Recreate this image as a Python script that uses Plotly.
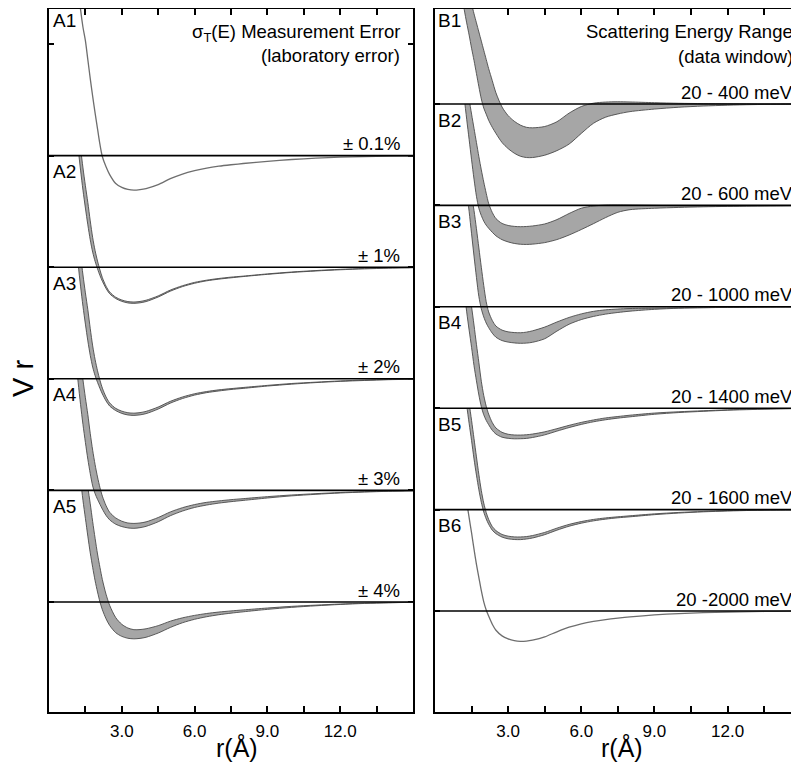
import plotly.graph_objects as go

# ---------------- data (V*r, in units of one sub-panel spacing) ----------------
R = [1.1, 1.2, 1.3, 1.4, 1.5, 1.6, 1.7, 1.8, 1.9, 2.0, 2.1, 2.2, 2.35, 2.5, 2.75, 3.0, 3.25, 3.5,
     3.75, 4.0, 4.5, 5.0, 5.5, 6.0, 6.5, 7.0, 7.5, 8.0, 9.0, 10.0, 11.0, 12.0, 13.0, 14.0, 15.0]

A1_V = [1.80, 1.52, 1.31, 1.15, 1.03, 0.86, 0.69, 0.53, 0.38, 0.24, 0.10, -0.01, -0.10, -0.17, -0.25,
        -0.285, -0.303, -0.31, -0.305, -0.295, -0.26, -0.207, -0.165, -0.135, -0.112, -0.095, -0.082,
        -0.071, -0.051, -0.035, -0.023, -0.014, -0.008, -0.005, -0.003]
A_CENTER = [1.40, 1.17, 0.97, 0.79, 0.63, 0.48, 0.33, 0.20, 0.10, 0.02, -0.05, -0.11, -0.18, -0.23,
            -0.275, -0.30, -0.314, -0.318, -0.313, -0.302, -0.262, -0.21, -0.17, -0.14, -0.119,
            -0.104, -0.092, -0.082, -0.062, -0.045, -0.032, -0.021, -0.013, -0.007, -0.003]
A2_HW = [0.10, 0.10, 0.10, 0.10, 0.10, 0.10, 0.085, 0.065, 0.048, 0.035, 0.025, 0.016, 0.01, 0.008,
         0.006, 0.006, 0.006, 0.006, 0.006, 0.006, 0.005, 0.005, 0.004, 0.004, 0.003, 0.003, 0.003,
         0.002, 0.002, 0.002, 0.002, 0.002, 0.002, 0.002, 0.002]
A3_HW = [0.14, 0.14, 0.14, 0.14, 0.14, 0.14, 0.12, 0.095, 0.072, 0.052, 0.037, 0.026, 0.018, 0.014,
         0.01, 0.01, 0.01, 0.01, 0.01, 0.01, 0.009, 0.008, 0.007, 0.006, 0.005, 0.005, 0.004, 0.004,
         0.003, 0.003, 0.002, 0.002, 0.002, 0.001, 0.001]
A4_HW = [0.2, 0.2, 0.2, 0.2, 0.2, 0.2, 0.18, 0.16, 0.13, 0.10, 0.075, 0.058, 0.044, 0.034, 0.028,
         0.024, 0.022, 0.022, 0.021, 0.02, 0.019, 0.017, 0.015, 0.013, 0.012, 0.01, 0.009, 0.008,
         0.006, 0.004, 0.003, 0.002, 0.002, 0.001, 0.001]
A5_LO = [1.55, 1.32, 1.10, 0.91, 0.75, 0.59, 0.44, 0.31, 0.19, 0.09, 0.0, -0.07, -0.15, -0.21, -0.275,
         -0.308, -0.325, -0.33, -0.326, -0.316, -0.278, -0.228, -0.186, -0.155, -0.132, -0.114, -0.1,
         -0.088, -0.066, -0.048, -0.034, -0.022, -0.013, -0.007, -0.003]
A5_HI = [2.10, 1.82, 1.58, 1.38, 1.20, 1.03, 0.88, 0.72, 0.57, 0.43, 0.31, 0.20, 0.07, -0.03, -0.14,
         -0.20, -0.233, -0.248, -0.247, -0.24, -0.212, -0.172, -0.142, -0.12, -0.103, -0.09, -0.08,
         -0.071, -0.054, -0.039, -0.028, -0.018, -0.011, -0.006, -0.003]

B1_LO = [1.10, 0.93, 0.80, 0.68, 0.55, 0.43, 0.30, 0.17, 0.05, -0.04, -0.10, -0.16, -0.23, -0.29,
         -0.38, -0.44, -0.485, -0.515, -0.528, -0.528, -0.505, -0.46, -0.395, -0.29, -0.19, -0.13,
         -0.098, -0.075, -0.05, -0.032, -0.02, -0.012, -0.006, -0.003, -0.001]
B1_HI = [1.60, 1.40, 1.25, 1.11, 0.99, 0.89, 0.80, 0.71, 0.62, 0.53, 0.44, 0.35, 0.23, 0.11, -0.03,
         -0.115, -0.17, -0.208, -0.23, -0.235, -0.222, -0.175, -0.09, -0.025, 0.008, 0.019, 0.022,
         0.02, 0.013, 0.007, 0.004, 0.002, 0.001, 0.0, 0.0]
B2_LO = [1.30, 1.06, 0.85, 0.65, 0.45, 0.26, 0.09, -0.03, -0.10, -0.155, -0.195, -0.225, -0.265, -0.30,
         -0.338, -0.36, -0.375, -0.383, -0.385, -0.382, -0.367, -0.337, -0.292, -0.238, -0.18, -0.12,
         -0.068, -0.042, -0.028, -0.02, -0.014, -0.01, -0.007, -0.005, -0.003]
B2_HI = [1.80, 1.50, 1.25, 1.05, 0.90, 0.76, 0.62, 0.48, 0.35, 0.23, 0.12, 0.02, -0.07, -0.13, -0.178,
         -0.198, -0.207, -0.21, -0.208, -0.203, -0.183, -0.14, -0.08, -0.028, -0.006, 0.003, 0.004,
         0.003, 0.0, -0.003, -0.004, -0.004, -0.003, -0.002, -0.001]
B3_LO = [1.60, 1.35, 1.14, 0.94, 0.72, 0.50, 0.29, 0.10, -0.02, -0.10, -0.16, -0.205, -0.26, -0.30,
         -0.333, -0.348, -0.356, -0.36, -0.358, -0.35, -0.315, -0.24, -0.172, -0.126, -0.095, -0.072,
         -0.056, -0.043, -0.025, -0.014, -0.009, -0.006, -0.004, -0.002, -0.001]
B3_HI = [1.90, 1.65, 1.45, 1.27, 1.10, 0.95, 0.77, 0.58, 0.39, 0.21, 0.05, -0.05, -0.135, -0.19,
         -0.23, -0.247, -0.254, -0.256, -0.25, -0.237, -0.20, -0.15, -0.105, -0.07, -0.045, -0.03,
         -0.022, -0.017, -0.013, -0.01, -0.008, -0.006, -0.004, -0.002, -0.001]
B4_CENTER = [1.60, 1.36, 1.15, 0.97, 0.80, 0.62, 0.45, 0.29, 0.14, 0.03, -0.05, -0.11, -0.18, -0.225,
             -0.262, -0.277, -0.283, -0.283, -0.28, -0.272, -0.248, -0.214, -0.18, -0.15, -0.125,
             -0.105, -0.09, -0.077, -0.054, -0.039, -0.028, -0.018, -0.011, -0.006, -0.003]
B4_HW = [0.2, 0.2, 0.2, 0.2, 0.2, 0.2, 0.18, 0.16, 0.125, 0.095, 0.07, 0.052, 0.038, 0.03, 0.024,
         0.02, 0.019, 0.018, 0.018, 0.017, 0.015, 0.012, 0.011, 0.01, 0.009, 0.009, 0.008, 0.008,
         0.006, 0.004, 0.003, 0.002, 0.002, 0.001, 0.001]
B5_CENTER = [1.55, 1.33, 1.13, 0.95, 0.78, 0.60, 0.43, 0.27, 0.13, 0.02, -0.06, -0.12, -0.185, -0.222,
             -0.258, -0.275, -0.282, -0.283, -0.278, -0.268, -0.236, -0.193, -0.155, -0.126, -0.104,
             -0.088, -0.076, -0.066, -0.046, -0.031, -0.02, -0.012, -0.007, -0.004, -0.002]
B5_HW = [0.1, 0.1, 0.1, 0.1, 0.1, 0.1, 0.09, 0.075, 0.058, 0.044, 0.032, 0.024, 0.018, 0.015, 0.013,
         0.013, 0.013, 0.013, 0.012, 0.012, 0.011, 0.01, 0.009, 0.008, 0.007, 0.006, 0.005, 0.005,
         0.004, 0.003, 0.002, 0.002, 0.001, 0.001, 0.001]
B6_V = [1.50, 1.28, 1.08, 0.92, 0.77, 0.61, 0.46, 0.33, 0.20, 0.09, 0.01, -0.05, -0.13, -0.19, -0.245,
        -0.275, -0.293, -0.30, -0.297, -0.287, -0.255, -0.205, -0.16, -0.126, -0.102, -0.084, -0.07,
        -0.058, -0.039, -0.025, -0.016, -0.01, -0.006, -0.003, -0.001]

LEFT_LABELS = ["A1", "A2", "A3", "A4", "A5"]
LEFT_NOTES = ["± 0.1%", "± 1%", "± 2%", "± 3%", "± 4%"]
RIGHT_LABELS = ["B1", "B2", "B3", "B4", "B5", "B6"]
RIGHT_NOTES = ["20 - 400 meV", "20 - 600 meV", "20 - 1000 meV", "20 - 1400 meV",
               "20 - 1600 meV", "20 -2000 meV"]
X_TICKVALS = [3.0, 6.0, 9.0, 12.0]
X_TICKTEXT = ["3.0", "6.0", "9.0", "12.0"]
X_MINOR = [1.5, 4.5, 7.5, 10.5, 13.5]


def sym(center, hw):
    return ([c - h for c, h in zip(center, hw)], [c + h for c, h in zip(center, hw)])


LEFT_PANELS = [("line", A1_V), ("band", sym(A_CENTER, A2_HW)), ("band", sym(A_CENTER, A3_HW)),
               ("band", sym(A_CENTER, A4_HW)), ("band", (A5_LO, A5_HI))]
RIGHT_PANELS = [("band", (B1_LO, B1_HI)), ("band", (B2_LO, B2_HI)), ("band", (B3_LO, B3_HI)),
                ("band", sym(B4_CENTER, B4_HW)), ("band", sym(B5_CENTER, B5_HW)), ("line", B6_V)]

# ---------------- layout geometry (page pixels; the page has an 8px body margin) ----------------
OX, OY = 8, 8
PAGE_W, PAGE_H = 799, 762
FW, FH = PAGE_W - OX, PAGE_H - OY
PT, PB = 9, 712
PH = PB - PT
LX0, LX1 = 49, 413
RX0 = 435
UL, ZL_BOTTOM = 111.6, 602.0
UR, ZR_BOTTOM = 101.4, 611.0

FONT = "Liberation Sans, Arial, sans-serif"
FILL = "rgb(166,166,166)"
EDGE = "rgb(75,75,75)"
THIN = "rgb(110,110,110)"


def fy(px):
    return (PB - px) / PH


def fx(px):
    return (px - OX) / FW


fig = go.Figure()
layout_axes = {}
annotations = []
shapes = []

# base (frame) subplots: empty traces so both framed axes are drawn
for xa, ya in (("x", "y"), ("x2", "y2")):
    fig.add_trace(go.Scatter(x=[None], y=[None], xaxis=xa, yaxis=ya, mode="lines",
                             hoverinfo="skip", showlegend=False))


def add_panels(panels, unit, zbottom, xaxis_name, axis_start, labels, notes, label_x, note_x,
               first_label_y):
    n = len(panels)
    for i, (kind, data) in enumerate(panels):
        z = zbottom - (n - 1 - i) * unit
        top = PT if i == 0 else z - unit
        k = axis_start + i
        layout_axes["yaxis%d" % k] = dict(
            domain=[0, fy(top)], range=[-(PB - z) / unit, (z - top) / unit],
            anchor=xaxis_name, visible=False, fixedrange=True)
        ya = "y%d" % k
        if kind == "line":
            fig.add_trace(go.Scatter(x=R, y=data, xaxis=xaxis_name, yaxis=ya, mode="lines",
                                     line=dict(color=THIN, width=1.3, shape="spline",
                                               smoothing=0.8),
                                     hoverinfo="skip", showlegend=False))
        else:
            lo, hi = data
            fig.add_trace(go.Scatter(x=R + R[::-1], y=hi + lo[::-1], xaxis=xaxis_name, yaxis=ya,
                                     mode="lines", fill="toself", fillcolor=FILL,
                                     line=dict(width=0, shape="spline", smoothing=0.8),
                                     hoverinfo="skip", showlegend=False))
            for edge in (lo, hi):
                fig.add_trace(go.Scatter(x=R, y=edge, xaxis=xaxis_name, yaxis=ya, mode="lines",
                                         line=dict(color=EDGE, width=0.9, shape="spline",
                                                   smoothing=0.8),
                                         hoverinfo="skip", showlegend=False))
        ly = first_label_y if i == 0 else z - unit + 16
        annotations.append(dict(text=labels[i], x=fx(label_x), y=fy(ly), xref="paper",
                                yref="paper", xanchor="left", yanchor="middle", showarrow=False,
                                font=dict(family=FONT, size=19, color="black")))
        annotations.append(dict(text=notes[i], x=fx(note_x), y=fy(z - 12), xref="paper",
                                yref="paper", xanchor="right", yanchor="middle", showarrow=False,
                                font=dict(family=FONT, size=18.5, color="black")))
        shapes.append(dict(type="line", xref=xaxis_name + " domain", x0=0, x1=1,
                           yref="paper", y0=fy(z), y1=fy(z), layer="above",
                           line=dict(color="black", width=1.6)))


add_panels(LEFT_PANELS, UL, ZL_BOTTOM, "x", 3, LEFT_LABELS, LEFT_NOTES, 51, 402, 21)
add_panels(RIGHT_PANELS, UR, ZR_BOTTOM, "x2", 8, RIGHT_LABELS, RIGHT_NOTES, 436, 795, 20)

# titles
for txt, xr, ypx in [("σ<sub>T</sub>(E) Measurement Error", 402, 33), ("(laboratory error)", 402, 55),
                     ("Scattering Energy Range", 795, 32), ("(data window)", 795, 56)]:
    annotations.append(dict(text=txt, x=fx(xr), y=fy(ypx), xref="paper", yref="paper",
                            xanchor="right", yanchor="middle", showarrow=False,
                            font=dict(family=FONT, size=18.5, color="black")))
for xc in (237, 622):
    annotations.append(dict(text="r(Å)", x=fx(xc), y=fy(747), xref="paper", yref="paper",
                            xanchor="center", yanchor="middle", showarrow=False,
                            font=dict(family=FONT, size=25, color="black")))
annotations.append(dict(text="V r", x=fx(23), y=fy(379), xref="paper", yref="paper",
                        xanchor="center", yanchor="middle", showarrow=False, textangle=-90,
                        font=dict(family=FONT, size=29, color="black")))

xcommon = dict(tickvals=X_TICKVALS, ticktext=X_TICKTEXT, ticks="inside", ticklen=6, tickwidth=1.5,
               tickcolor="black", showline=True, linewidth=2, linecolor="black", showgrid=False,
               zeroline=False, fixedrange=True, ticklabelstandoff=3,
               minor=dict(tickvals=X_MINOR, ticks="inside", ticklen=6, tickwidth=1.5,
                          tickcolor="black", showgrid=False),
               tickfont=dict(family=FONT, size=17, color="black"))
ycommon = dict(tickvals=[0, 1, 2, 3, 4, 5], ticks="inside", ticklen=5, tickwidth=1.5,
               tickcolor="black", showticklabels=False, showline=True, linewidth=2,
               linecolor="black", showgrid=False, zeroline=False, fixedrange=True)

fig.update_layout(
    width=FW, height=FH, margin=dict(l=0, r=0, t=PT - OY, b=OY + FH - PB),
    paper_bgcolor="white", plot_bgcolor="rgba(0,0,0,0)", showlegend=False,
    xaxis=dict(domain=[fx(LX0), fx(LX1)], range=[0, 15], anchor="y", mirror="ticks", **xcommon),
    yaxis=dict(domain=[0, 1], anchor="x", mirror="ticks",
               range=[-(PB - ZL_BOTTOM) / UL, (ZL_BOTTOM - PT) / UL], **ycommon),
    xaxis2=dict(domain=[fx(RX0), 1], range=[0, 14.93], anchor="y2", mirror="ticks", **xcommon),
    yaxis2=dict(domain=[0, 1], anchor="x2", mirror=False,
                range=[-(PB - ZR_BOTTOM) / UR, (ZR_BOTTOM - PT) / UR], **ycommon),
    annotations=annotations, shapes=shapes,
)
fig.update_layout(**layout_axes)

fig.write_html("out.html")
